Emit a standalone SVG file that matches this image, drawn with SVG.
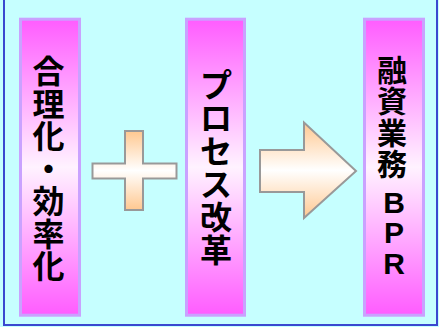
<svg xmlns="http://www.w3.org/2000/svg" width="439" height="327" viewBox="0 0 439 327">
  <defs>
    <linearGradient id="barGrad" x1="0" y1="0" x2="0" y2="1">
      <stop offset="0" stop-color="#FF5CFF"/>
      <stop offset="0.5" stop-color="#FFF2FF"/>
      <stop offset="1" stop-color="#FF5CFF"/>
    </linearGradient>
    <linearGradient id="peachGrad" x1="0" y1="0" x2="0" y2="1">
      <stop offset="0" stop-color="#FFC890"/>
      <stop offset="0.5" stop-color="#FFFFFF"/>
      <stop offset="1" stop-color="#FFC890"/>
    </linearGradient>
    <style>
      .bar { fill: url(#barGrad); stroke: #C9A2FF; stroke-width: 3; }
      .op { fill: url(#peachGrad); stroke: #999999; stroke-width: 2; stroke-linejoin: miter; }
      .lbl { font-family: "Noto Sans CJK JP", "Noto Sans", sans-serif; font-weight: bold; fill: #000000; text-anchor: middle; }
      .lat { font-family: "Liberation Sans", Arial, sans-serif; font-weight: bold; fill: #000000; text-anchor: middle; }
    </style>
  </defs>
  <rect x="0" y="0" width="439" height="327" fill="#C6FFFF"/>
  <rect x="4" y="-2" width="433" height="327" fill="none" stroke="#3A48D0" stroke-width="2"/>

  <g id="node-rationalization">
    <rect class="bar" x="20.5" y="19.2" width="59" height="296"/>
    <text class="lbl" font-size="32"><tspan x="48.5" y="83">合</tspan><tspan x="48.5" y="116">理</tspan><tspan x="48.5" y="148">化</tspan><tspan x="48.5" y="181">・</tspan><tspan x="48.5" y="213">効</tspan><tspan x="48.5" y="246">率</tspan><tspan x="48.5" y="278">化</tspan></text>
  </g>

  <g id="node-process">
    <rect class="bar" x="186.5" y="19.2" width="58" height="296"/>
    <text class="lbl" font-size="32"><tspan x="216" y="97">プ</tspan><tspan x="216" y="130">ロ</tspan><tspan x="216" y="163">セ</tspan><tspan x="216" y="196">ス</tspan><tspan x="216" y="229">改</tspan><tspan x="216" y="262">革</tspan></text>
  </g>

  <g id="node-bpr">
    <rect class="bar" x="364.5" y="19.2" width="59" height="296"/>
    <text class="lbl" font-size="30"><tspan x="392" y="81">融</tspan><tspan x="392" y="112">資</tspan><tspan x="392" y="144">業</tspan><tspan x="392" y="175">務</tspan></text>
    <text class="lat" font-size="30"><tspan x="394" y="213">B</tspan><tspan x="394" y="243">P</tspan><tspan x="394" y="274">R</tspan></text>
  </g>

  <g id="connectors">
    <path id="plus" class="op" d="M125,131 H143 V163.5 H176.5 V178.5 H143 V210 H125 V178.5 H92.5 V163.5 H125 Z"/>
    <path id="arrow" class="op" d="M260,150 H304 V122.5 L356,171 L304,218 V192 H260 Z"/>
  </g>
</svg>
